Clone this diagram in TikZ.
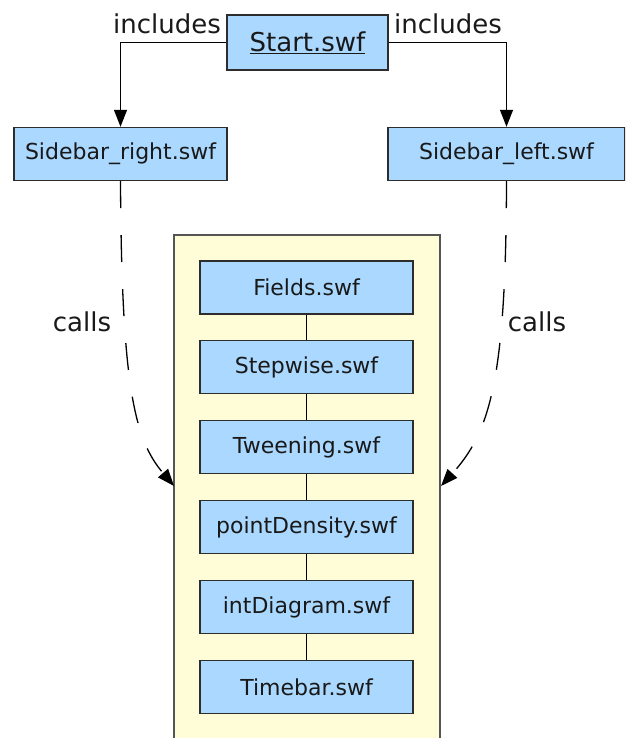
\documentclass[tikz,border=0pt]{standalone}
\usepackage{fontspec}
\setmainfont{DejaVu Sans}
\usetikzlibrary{arrows.meta}
\definecolor{boxblue}{RGB}{170,216,255}
\definecolor{libyellow}{RGB}{255,253,215}
\definecolor{edgegray}{RGB}{45,45,45}
\definecolor{framegray}{RGB}{85,85,85}
\definecolor{inkgray}{RGB}{25,25,25}
\begin{document}
\begin{tikzpicture}[x=1pt,y=-1pt,
  swfbox/.style={draw=edgegray,line width=1.4pt,fill=boxblue,inner sep=0pt,
    text=inkgray,font=\fontsize{22}{26}\selectfont,minimum height=53pt},
  libframe/.style={draw=framegray,line width=1.8pt,fill=libyellow,inner sep=0pt},
  lbl/.style={text=inkgray,font=\fontsize{26}{30}\selectfont,inner sep=0pt},
  link/.style={line width=1.3pt,black},
  tip/.style={-{Triangle[length=17pt,width=13pt]}},
  callarrow/.style={link,tip,dash pattern=on 27pt off 27pt}
]
\useasboundingbox (0,0) rectangle (625,738);
\clip (0,0) rectangle (625,738);

% top-level movie and its two included sidebars
\node[swfbox,minimum width=161pt,minimum height=55pt,font=\fontsize{26}{30}\selectfont]
  (start) at (307.5,42.5) {\underline{Start.swf}};
\node[swfbox,minimum width=213pt] (sbr) at (120.5,154) {Sidebar\_right.swf};
\node[swfbox,minimum width=237pt] (sbl) at (506.5,154) {Sidebar\_left.swf};

% library column of called movies
\node[libframe,minimum width=266pt,minimum height=530pt] (lib) at (307,500) {};
\node[swfbox,minimum width=213pt] (fields) at (306.5,287.5) {Fields.swf};
\node[swfbox,minimum width=213pt] (step)   at (306.5,367)   {Stepwise.swf};
\node[swfbox,minimum width=213pt] (tween)  at (306.5,447)   {Tweening.swf};
\node[swfbox,minimum width=213pt] (dens)   at (306.5,527)   {pointDensity.swf};
\node[swfbox,minimum width=213pt] (diag)   at (306.5,607)   {intDiagram.swf};
\node[swfbox,minimum width=213pt] (time)   at (306.5,687)   {Timebar.swf};

\draw[link] (fields) -- (step);
\draw[link] (step) -- (tween);
\draw[link] (tween) -- (dens);
\draw[link] (dens) -- (diag);
\draw[link] (diag) -- (time);

% "includes" connectors
\draw[link,tip] (start.west) -| (sbr.north);
\draw[link,tip] (start.east) -| (sbl.north);
\node[lbl] (incl) at (167,24) {includes};
\node[lbl] (incr) at (448,24) {includes};

% "calls" connectors into the library frame
\coordinate (hitl) at (174,486);
\coordinate (hitr) at (441,486);
\draw[callarrow] (sbr.south) .. controls (121.5,390) and (135,440) .. (hitl);
\draw[callarrow] (sbl.south) .. controls (506,380) and (490,432) .. (hitr);
\node[lbl] (callsl) at (82,322) {calls};
\node[lbl] (callsr) at (537,322) {calls};
\end{tikzpicture}
\end{document}
